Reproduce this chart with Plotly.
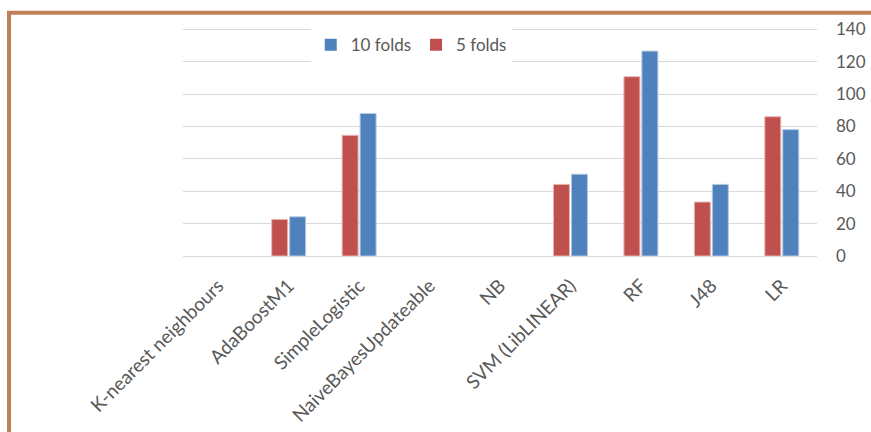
import plotly.graph_objects as go

# Classifier names along the x axis
classifiers = [
    "K-nearest neighbours",
    "AdaBoostM1",
    "SimpleLogistic",
    "NaiveBayesUpdateable",
    "NB",
    "SVM (LibLINEAR)",
    "RF",
    "J48",
    "LR",
]

# Values per classifier for each cross-validation setting
folds_5 = [0, 22.6, 74.5, 0, 0, 44.2, 110.7, 33.3, 86]
folds_10 = [0, 24.2, 88, 0, 0, 50.5, 126.5, 44.2, 78]

y_ticks = [0, 20, 40, 60, 80, 100, 120, 140]

RED = "#C0504D"
BLUE = "#4F81BD"
TEXT = "#595959"
GRID = "#D9D9D9"
FONT = "Lato, Carlito, Calibri, sans-serif"


def outline_widths(values):
    # no outline on empty bars so nothing shows at zero
    return [0 if v == 0 else 1 for v in values]


fig = go.Figure()
fig.add_trace(go.Bar(
    name="5 folds", x=classifiers, y=folds_5,
    marker=dict(color=RED, line=dict(color="#E8B5B3", width=outline_widths(folds_5))),
))
fig.add_trace(go.Bar(
    name="10 folds", x=classifiers, y=folds_10,
    marker=dict(color=BLUE, line=dict(color="#B4C8E4", width=outline_widths(folds_10))),
))

fig.update_layout(
    width=871, height=432,
    margin=dict(l=183, r=54, t=26, b=176, autoexpand=False),
    paper_bgcolor="white", plot_bgcolor="white",
    font=dict(family=FONT, color=TEXT, size=17),
    barmode="group", bargap=0.49, bargroupgap=0.11,
    showlegend=True,
    legend=dict(
        orientation="h", traceorder="reversed",
        x=0.36, y=0.917, xanchor="center", yanchor="middle",
        bgcolor="white", font=dict(size=17, color=TEXT),
        itemwidth=30,
    ),
    xaxis=dict(
        tickangle=-45, showgrid=False, showline=False, ticks="",
        tickfont=dict(size=19, color=TEXT), automargin=False,
        ticklabelstandoff=14,
    ),
    yaxis=dict(
        side="right", range=[0, 142], tickvals=y_ticks,
        showgrid=True, gridcolor=GRID, gridwidth=1,
        zeroline=True, zerolinecolor=GRID, zerolinewidth=1,
        showline=False, ticks="", ticklabelstandoff=18,
        tickfont=dict(size=17, color=TEXT), automargin=False,
    ),
    shapes=[
        # Frame around the chart (extends past the right and bottom edges)
        dict(
            type="rect", xref="paper", yref="paper",
            x0=-0.2744, x1=1.12, y0=-0.8, y1=1.058,
            line=dict(color="#C0805A", width=4),
            fillcolor="rgba(0,0,0,0)", layer="above",
        )
    ],
)

fig.write_html("out.html")
